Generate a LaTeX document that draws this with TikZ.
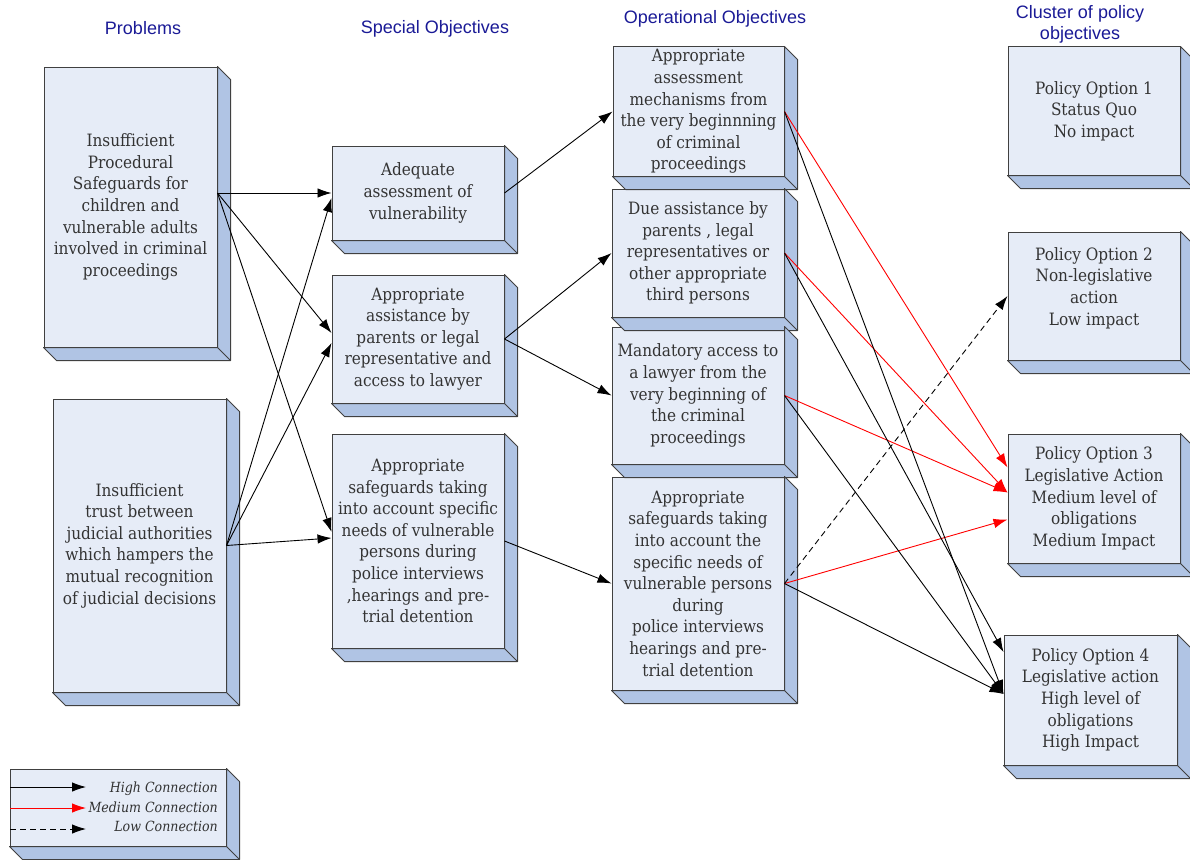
\documentclass[tikz,border=0pt]{standalone}
\usepackage{fontspec}
\setmainfont{DejaVu Serif Condensed}
\newfontfamily\headfont{Liberation Sans}
\usetikzlibrary{calc,arrows.meta,positioning}
\definecolor{faceblue}{RGB}{230,236,247}
\definecolor{sideblue}{RGB}{176,196,228}
\definecolor{edgegrey}{RGB}{64,64,64}
\definecolor{textgrey}{RGB}{51,51,51}
\definecolor{headblue}{RGB}{26,26,150}

\begin{document}
\begin{tikzpicture}[x=1pt,y=-1pt]

\tikzset{cubetext/.style={align=center,text=textgrey,font=\fontsize{17}{21.6}\selectfont},
cube/.style={cubetext,draw=edgegrey,fill=faceblue,line width=1pt,inner sep=0pt},
heading/.style={text=headblue,align=center,font=\headfont\fontsize{18}{21}\selectfont},
legendtext/.style={text=textgrey,anchor=east,inner sep=0pt,font=\itshape\fontsize{14}{16}\selectfont},
high/.style={-{Latex[length=14pt,width=9.5pt]},line width=0.9pt},
medium/.style={high,color=red},
low/.style={high,dash pattern=on 6pt off 4pt}}

\useasboundingbox (0,0) rectangle (1190,859);

% Column headings
\node[heading] (hProb) at (143,28) {Problems};
\node[heading] (hSpec) at (435,29) {Special Objectives};
\node[heading] (hOper) at (715,19) {Operational Objectives};
\node[heading] (hClus) at (1080,24.5) {Cluster of policy\\objectives};

% Problems
\node[cube,minimum width=173pt,minimum height=280pt] (p1) at (130.5,207) {Insufficient\\Procedural\\Safeguards for\\children and\\vulnerable adults\\involved in criminal\\proceedings};
\node[cube,minimum width=173pt,minimum height=293pt] (p2) at (139.5,545.5) {Insufficient\\trust between\\judicial authorities\\which hampers the\\mutual recognition\\of judicial decisions};

% Special objectives
\node[cube,minimum width=172pt,minimum height=94pt] (s1) at (418,193) {Adequate\\assessment of\\vulnerability};
\node[cube,minimum width=172pt,minimum height=128pt] (s2) at (418,339) {Appropriate\\assistance by\\parents or legal\\representative and\\access to lawyer};
\node[cube,minimum width=172pt,minimum height=214pt] (s3) at (418,541) {Appropriate\\safeguards taking\\into account specific\\needs of vulnerable\\persons during\\police interviews\\,hearings and pre-\\trial detention};

% Operational objectives
\node[cube,minimum width=171pt,minimum height=129pt] (o1) at (698.5,111.5) {Appropriate\\assessment\\mechanisms from\\the very beginnning\\of criminal\\proceedings};
\node[cube,minimum width=172pt,minimum height=128pt] (o2) at (698,253) {Due assistance by\\parents , legal\\representatives or\\other appropriate\\third persons};
\node[cube,minimum width=172pt,minimum height=137pt] (o3) at (698,395.5) {Mandatory access to\\a lawyer from the\\very beginning of\\the criminal\\proceedings};
\node[cube,minimum width=172pt,minimum height=213pt] (o4) at (698,583.5) {Appropriate\\safeguards taking\\into account the\\specific needs of\\vulnerable persons\\during\\police interviews\\hearings and pre-\\trial detention};

% Policy options
\node[cube,minimum width=172pt,minimum height=128pt] (c1) at (1094,111) {Policy Option 1\\Status Quo\\No impact};
\node[cube,minimum width=172pt,minimum height=128pt,label={[cubetext,yshift=8pt]center:{Policy Option 2\\Non-legislative\\action\\Low impact}}] (c2) at (1094,296) {};
\node[cube,minimum width=172pt,minimum height=129pt] (c3) at (1094,498.5) {Policy Option 3\\Legislative Action\\Medium level of\\obligations\\Medium Impact};
\node[cube,minimum width=173pt,minimum height=130pt] (c4) at (1090.5,700) {Policy Option 4\\Legislative action\\High level of\\obligations\\High Impact};

% Legend
\node[cube,minimum width=216pt,minimum height=77pt] (legend) at (118,807.5) {};

% depth faces
\foreach \n in {p1,p2,s1,s2,s3,o1,o2,o3,o4,c1,c2,c3,c4,legend} {
  \filldraw[fill=sideblue,draw=edgegrey,line width=1pt,line join=round] (\n.north east) -- ++(13,13) -- ($(\n.south east)+(13,13)$) -- ($(\n.south west)+(13,13)$) -- (\n.south west) -- (\n.south east) -- cycle;
  \draw[edgegrey,line width=1pt] (\n.south east) -- ++(13,13);
}

\node[legendtext] (lHigh) at (218,789) {High Connection};
\node[legendtext] (lMed) at (218,807) {Medium Connection};
\node[legendtext] (lLow) at (218,826) {Low Connection};
\coordinate (hA) at (10,787); \coordinate (hB) at (86,787);
\coordinate (mA) at (10,808); \coordinate (mB) at (86,808);
\coordinate (lA) at (10,829); \coordinate (lB) at (86,829);
\draw[high] (hA) -- (hB);
\draw[medium] (mA) -- (mB);
\draw[low] (lA) -- (lB);

% Problems -> special objectives
\draw[high] ($(p1.east)+(0,-14)$) -- (s1.west);
\draw[high] ($(p1.east)+(0,-14)$) -- ($(s2.west)+(0,-6)$);
\draw[high] ($(p1.east)+(0,-14)$) -- ($(s3.west)+(0,-9)$);
\draw[high] (p2.east) -- ($(s1.west)+(0,5)$);
\draw[high] (p2.east) -- ($(s2.west)+(0,4)$);
\draw[high] (p2.east) -- ($(s3.west)+(0,-3)$);

% Special -> operational objectives
\draw[high] (s1.east) -- (o1.west);
\foreach \t in {o2,o3} \draw[high] (s2.east) -- (\t.west);
\draw[high] (s3.east) -- (o4.west);

% Operational objectives -> policy options
\draw[medium] (o1.east) -- ($(c3.west)+(0,-31)$);
\foreach \s in {o2,o3} \draw[medium] (\s.east) -- ($(c3.west)+(0,-6)$);
\draw[medium] (o4.east) -- ($(c3.west)+(0,21)$);
\draw[high] (o2.east) -- ($(c4.west)+(0,-48)$);
\foreach \s in {o1,o3,o4} \draw[high] (\s.east) -- ($(c4.west)+(0,-6)$);
\draw[low] (o4.east) -- (c2.west);

\end{tikzpicture}
\end{document}
